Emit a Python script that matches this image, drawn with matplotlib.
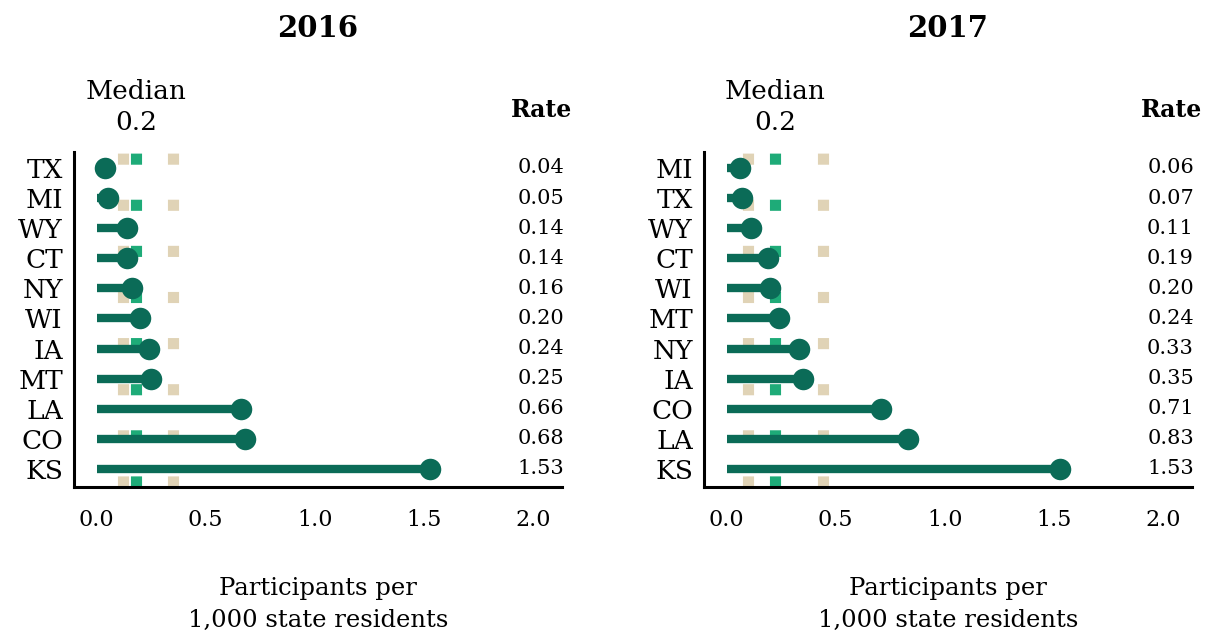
import matplotlib
matplotlib.use("Agg")
import matplotlib.pyplot as plt

plt.rcParams['font.family'] = ['DejaVu Serif']

years = ["2016", "2017"]
states_2016 = ["TX", "MI", "WY", "CT", "NY", "WI", "IA", "MT", "LA", "CO", "KS"]
rates_2016 = [0.04, 0.05, 0.14, 0.14, 0.16, 0.20, 0.24, 0.25, 0.66, 0.68, 1.53]
states_2017 = ["MI", "TX", "WY", "CT", "WI", "MT", "NY", "IA", "CO", "LA", "KS"]
rates_2017 = [0.06, 0.07, 0.11, 0.19, 0.20, 0.24, 0.33, 0.35, 0.71, 0.83, 1.53]
median_pos = [0.18, 0.223]
quartile_low = [0.119, 0.098]
quartile_high = [0.352, 0.44]
median_labels = ["0.2", "0.2"]
xticks = [0.0, 0.5, 1.0, 1.5, 2.0]
xtick_labels = ["0.0", "0.5", "1.0", "1.5", "2.0"]

DARK = "#0b6b57"
GREEN = "#1eab78"
BEIGE = "#e0d3b6"

fig = plt.figure(figsize=(12.1, 6.35), dpi=100)
W, H = 1210, 635
panels = [
    (states_2016, rates_2016),
    (states_2017, rates_2017),
]
lefts = [74, 704]
for i, (states, rates) in enumerate(panels):
    ax = fig.add_axes([lefts[i] / W, 1 - 487 / H, 488 / W, 335 / H])
    ys = list(range(len(states)))
    dash = (0, (1, 3.15))
    for xv, col in [(quartile_low[i], BEIGE), (quartile_high[i], BEIGE), (median_pos[i], GREEN)]:
        ax.axvline(xv, color=col, lw=8, linestyle=dash, dash_capstyle='butt', zorder=1)
    ax.hlines(ys, 0, rates, color=DARK, lw=6, zorder=2, capstyle='butt')
    ax.plot(rates, ys, 'o', color=DARK, ms=15.5, mec='none', zorder=3)
    ax.set_xlim(-0.104, 2.134)
    ax.set_ylim(len(states) - 1 + 0.6, -0.53)
    ax.set_yticks(ys)
    ax.set_yticklabels(states, fontsize=19)
    ax.set_xticks(xticks)
    ax.set_xticklabels(xtick_labels, fontsize=16)
    ax.tick_params(axis='both', length=0)
    ax.tick_params(axis='y', pad=8)
    ax.tick_params(axis='x', pad=16)
    for s in ['top', 'right']:
        ax.spines[s].set_visible(False)
    for s in ['left', 'bottom']:
        ax.spines[s].set_linewidth(2.2)
        ax.spines[s].set_color('black')
    for y, r in zip(ys, rates):
        ax.text(1.004, y, f"{r:.2f}", transform=ax.get_yaxis_transform(),
                ha='right', va='center', fontsize=15)
    ax.text(median_pos[i], 1.05, "Median\n" + median_labels[i],
            transform=ax.get_xaxis_transform(), ha='center', va='bottom',
            fontsize=19, linespacing=1.3)
    ax.text(1.02, 1.125, "Rate", transform=ax.transAxes, ha='right', va='center',
            fontsize=17, fontweight='bold')
    ax.text(0.5, 1.37, years[i], transform=ax.transAxes, ha='center', va='center',
            fontsize=21, fontweight='bold')
    ax.text(0.5, -0.35, "Participants per\n1,000 state residents", transform=ax.transAxes,
            ha='center', va='center', fontsize=17.5, linespacing=1.5)

fig.savefig("out.png", dpi=100)
